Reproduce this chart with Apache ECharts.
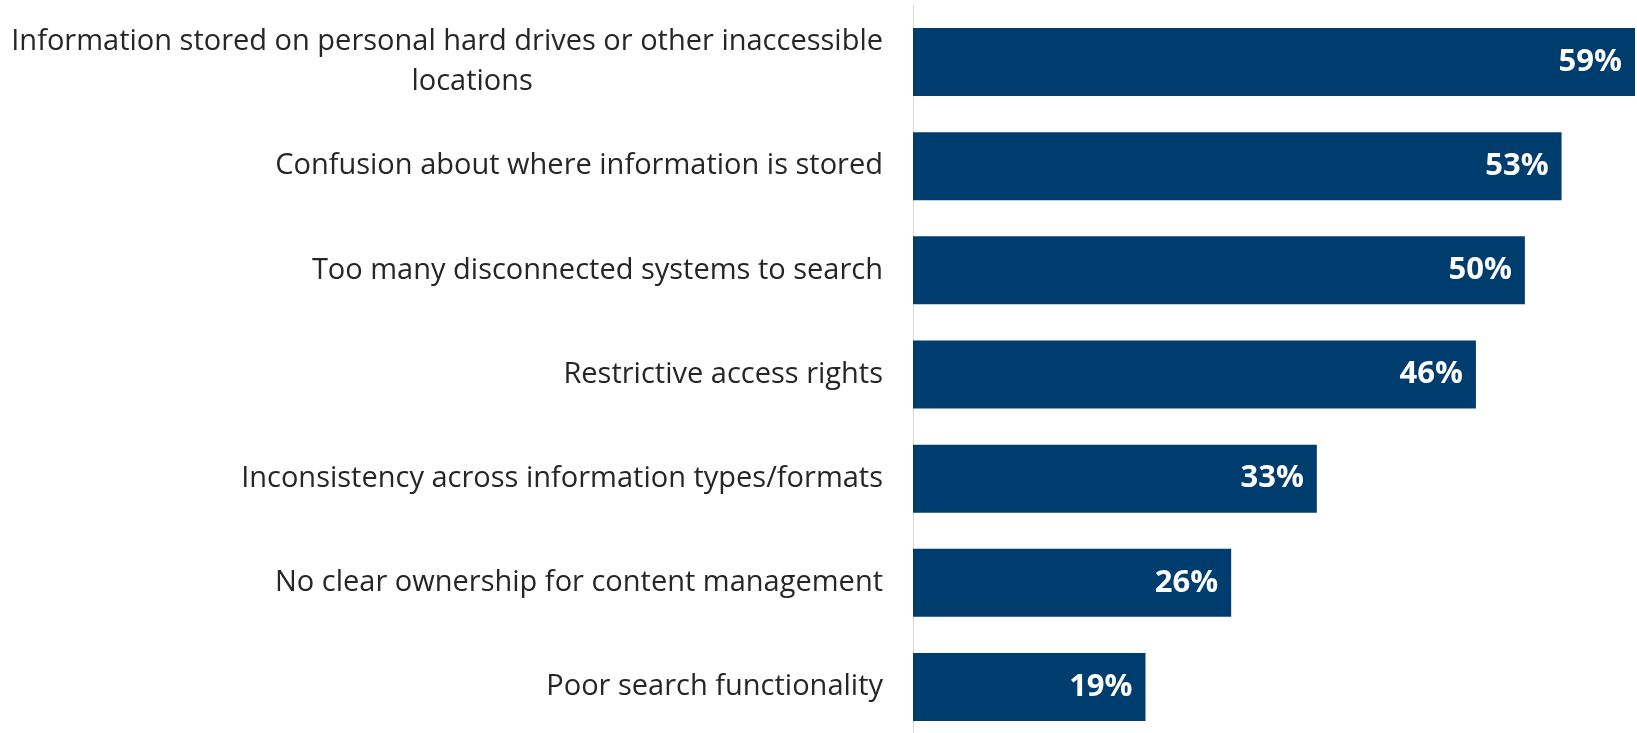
<!DOCTYPE html>
<html>
<head>
<meta charset="utf-8">
<title>Information access barriers</title>
<script src="https://cdn.jsdelivr.net/npm/echarts@6/dist/echarts.min.js"></script>
<style>
  html, body { margin: 0; padding: 0; background: #ffffff; }
  #chart { width: 1637px; height: 733px; }
</style>
</head>
<body>
<div id="chart"></div>
<script>
// Reasons, listed top to bottom
const categories = [
  'Information stored on personal hard drives or other inaccessible\nlocations',
  'Confusion about where information is stored',
  'Too many disconnected systems to search',
  'Restrictive access rights',
  'Inconsistency across information types/formats',
  'No clear ownership for content management',
  'Poor search functionality'
];
// Share of respondents (%)
const values = [59, 53, 50, 46, 33, 26, 19];

const chart = echarts.init(document.getElementById('chart'), null, { renderer: 'canvas' });

// category axis runs bottom-up, so reverse for top-down reading
const cats = categories.slice().reverse();
const vals = values.slice().reverse();

const labelFont = { fontFamily: 'Open Sans', fontSize: 29, color: '#262626', lineHeight: 40 };

chart.setOption({
  animation: false,
  backgroundColor: '#ffffff',
  grid: [
    // bars: category centres placed at the grid edges
    { left: 913, width: 722, top: 62, bottom: 46, containLabel: false },
    // full-height baseline rule
    { left: 913, width: 722, top: 5, bottom: 0, containLabel: false }
  ],
  xAxis: [
    { type: 'value', gridIndex: 0, min: 0, max: 'dataMax', show: false },
    { type: 'value', gridIndex: 1, min: 0, max: 1, show: false }
  ],
  yAxis: [
    {
      type: 'category',
      gridIndex: 0,
      data: cats,
      boundaryGap: false,
      axisLine: { show: false },
      axisTick: { show: false },
      splitLine: { show: false },
      axisLabel: {
        margin: 30,
        color: '#262626',
        fontFamily: 'Open Sans',
        fontSize: 29,
        lineHeight: 40,
        formatter: function (v) {
          const parts = v.split('\n');
          if (parts.length === 1) return '{a|' + v + '}';
          return '{a|' + parts[0] + '}\n{b|' + parts[1] + '}';
        },
        rich: {
          a: Object.assign({ align: 'right' }, labelFont),
          b: Object.assign({ align: 'center', padding: [0, 0, 0, 50] }, labelFont)
        }
      }
    },
    {
      type: 'value',
      gridIndex: 1,
      min: 0,
      max: 1,
      axisLine: { show: true, onZero: false, lineStyle: { color: '#d9d9d9', width: 1 } },
      axisTick: { show: false },
      axisLabel: { show: false },
      splitLine: { show: false }
    }
  ],
  series: [{
    type: 'bar',
    xAxisIndex: 0,
    yAxisIndex: 0,
    data: vals,
    barWidth: 68,
    itemStyle: { color: '#003d6f' },
    label: {
      show: true,
      position: 'insideRight',
      distance: 13,
      color: '#ffffff',
      fontFamily: 'Open Sans',
      fontWeight: 'bold',
      fontSize: 31,
      formatter: '{c}%'
    }
  }]
});
</script>
</body>
</html>
